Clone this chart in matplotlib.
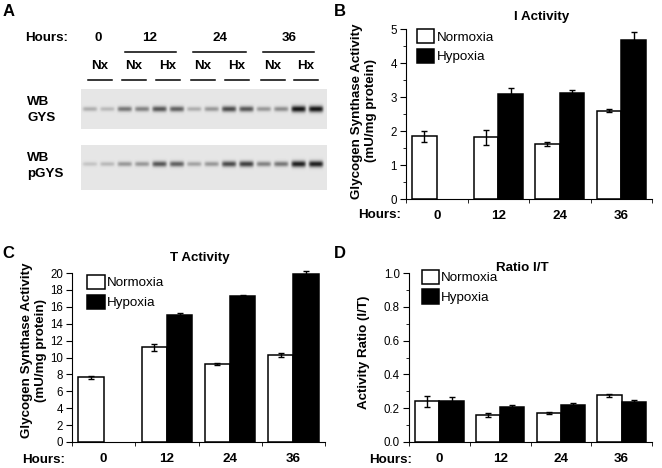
import numpy as np
import matplotlib; matplotlib.use("Agg")
import matplotlib.pyplot as plt
from matplotlib.patches import Patch
from matplotlib.ticker import FormatStrFormatter

plt.rcParams["font.family"] = ["Liberation Sans", "DejaVu Sans"]

W, H = 662, 468

# --- data ---
hours      = ["0", "12", "24", "36"]
lane_names = ["Nx", "Nx", "Hx", "Nx", "Hx", "Nx", "Hx"]
gys_bands  = [0.25, 0.20, 0.50, 0.45, 0.65, 0.60, 0.25, 0.35, 0.70, 0.65, 0.35, 0.40, 0.95, 0.95]
pgys_bands = [0.15, 0.20, 0.35, 0.35, 0.65, 0.60, 0.30, 0.35, 0.70, 0.75, 0.45, 0.50, 0.90, 0.90]

i_norm     = [1.84, 1.82, 1.62, 2.60]
i_norm_err = [0.15, 0.22, 0.05, 0.05]
i_hyp      = [np.nan, 3.09, 3.12, 4.68]
i_hyp_err  = [np.nan, 0.17, 0.10, 0.24]

t_norm     = [7.64, 11.2, 9.23, 10.3]
t_norm_err = [0.15, 0.45, 0.10, 0.25]
t_hyp      = [np.nan, 15.0, 17.3, 19.9]
t_hyp_err  = [np.nan, 0.30, 0.15, 0.35]

r_norm     = [0.240, 0.162, 0.172, 0.277]
r_norm_err = [0.030, 0.012, 0.008, 0.008]
r_hyp      = [0.244, 0.208, 0.218, 0.238]
r_hyp_err  = [0.025, 0.012, 0.010, 0.010]

FS = 9.6

fig = plt.figure(figsize=(W/100, H/100), dpi=100)

def box(l, t, r, b):
    return [l/W, 1-b/H, (r-l)/W, (b-t)/H]

# overlay in pixel coords for panel A and annotations
ov = fig.add_axes([0, 0, 1, 1])
ov.set_xlim(0, W); ov.set_ylim(H, 0)
ov.set_axis_off(); ov.patch.set_visible(False)

def blot(bands, l, t, r, b, yc):
    w, h = r-l, b-t
    xs = np.arange(w)[None, :] + l + 0.5
    ys = np.arange(h)[:, None] + t + 0.5
    img = np.full((h, w), 0.90)
    for xc, inten in zip(np.linspace(90, 316, len(bands)), bands):
        prof = np.exp(-((xs-xc)/7.2)**6) * np.exp(-((ys-yc)/(2.0+1.3*inten))**2)
        img -= 0.85*inten*prof
    ov.imshow(img, cmap="gray", vmin=0, vmax=1, extent=(l, r, b, t),
              aspect="auto", interpolation="bilinear")

blot(gys_bands, 81, 89, 327, 129, 109)
blot(pgys_bands, 81, 145, 327, 190, 164)
ov.set_xlim(0, W); ov.set_ylim(H, 0)

bold = dict(fontweight="bold", ha="center", va="center")
ov.text(9, 11, "A", fontsize=12, **bold)
ov.text(340, 11, "B", fontsize=12, **bold)
ov.text(8, 253, "C", fontsize=12, **bold)
ov.text(340, 253, "D", fontsize=12, **bold)

ov.text(47, 38, "Hours:", fontsize=FS, **bold)
for xh, s in zip([98, 150, 220, 289], hours):
    ov.text(xh, 38, s, fontsize=FS, **bold)
for x0, x1 in [(125, 176), (193, 246), (263, 314)]:
    ov.plot([x0, x1], [52, 52], color="black", lw=1.1)
for xl, s in zip([100, 134, 168, 203, 237, 273, 306], lane_names):
    ov.text(xl, 66, s, fontsize=FS, **bold)
    ov.plot([xl-12, xl+12], [80, 80], color="black", lw=1.1)
ov.text(27, 110, "WB\nGYS", fontsize=FS, fontweight="bold", ha="left", va="center", linespacing=1.4)
ov.text(27, 166, "WB\npGYS", fontsize=FS, fontweight="bold", ha="left", va="center", linespacing=1.4)

def bars(rect, norm, nerr, hyp, herr, top, major, minor, fmt, anchor):
    ax = fig.add_axes(rect)
    x = np.arange(len(hours))
    ax.bar(x-0.2, norm, 0.4, color="white", edgecolor="black", lw=1.1)
    ax.bar(x+0.2, hyp, 0.4, color="black", edgecolor="black", lw=1.1)
    for xs, v, e in [(x-0.2, norm, nerr), (x+0.2, hyp, herr)]:
        eb = ax.errorbar(xs, v, e, fmt="none", ecolor="black", elinewidth=1, capsize=2.5)
        for art in eb.lines[1] + eb.lines[2]:
            art.set_clip_on(False)
    ax.set_xlim(-0.5, 3.5); ax.set_ylim(0, top)
    ax.set_yticks(major)
    if minor is not None:
        ax.set_yticks(minor, minor=True)
    ax.yaxis.set_major_formatter(FormatStrFormatter(fmt))
    ax.set_xticks(x, hours, fontweight="bold", fontsize=FS)
    ax.set_xticks(np.arange(-0.5, 4), minor=True)
    ax.tick_params(axis="x", which="major", length=0, pad=8)
    ax.tick_params(axis="x", which="minor", length=3)
    ax.tick_params(axis="y", which="major", length=4, labelsize=8.3, pad=2.5)
    ax.tick_params(axis="y", which="minor", length=2.5)
    ax.spines[["top", "right"]].set_visible(False)
    ax.legend(handles=[Patch(fc="white", ec="black", lw=1.1, label="Normoxia"),
                       Patch(fc="black", ec="black", lw=1.1, label="Hypoxia")],
              loc="upper left", bbox_to_anchor=anchor, frameon=False, fontsize=FS,
              handlelength=1.3, handleheight=1.25, handletextpad=0.15,
              labelspacing=0.4, borderpad=0, borderaxespad=0)
    return ax

bars(box(406, 29, 652, 199), i_norm, i_norm_err, i_hyp, i_hyp_err, 5,
     np.arange(0, 6), np.arange(0, 5.1, 0.5), "%d", (0.045, 1.0))
bars(box(72, 273, 325, 442), t_norm, t_norm_err, t_hyp, t_hyp_err, 20,
     np.arange(0, 21, 2), None, "%d", (0.06, 0.99))
bars(box(409, 273, 652, 442), r_norm, r_norm_err, r_hyp, r_hyp_err, 1.0,
     np.arange(0, 1.01, 0.2), np.arange(0, 1.01, 0.1), "%.1f", (0.053, 1.02))

ov.text(542, 17, "I Activity", fontsize=FS, **bold)
ov.text(200, 258, "T Activity", fontsize=FS, **bold)
ov.text(522, 268, "Ratio I/T", fontsize=FS, **bold)
ov.text(364, 111, "Glycogen Synthase Activity\n(mU/mg protein)", fontsize=FS,
        rotation=90, multialignment="center", linespacing=1.3, **bold)
ov.text(34, 350, "Glycogen Synthase Activity\n(mU/mg protein)", fontsize=FS,
        rotation=90, multialignment="center", linespacing=1.3, **bold)
ov.text(364, 352, "Activity Ratio (I/T)", fontsize=FS, rotation=90, **bold)
ov.text(380, 215, "Hours:", fontsize=FS, **bold)
ov.text(44, 460, "Hours:", fontsize=FS, **bold)
ov.text(391, 460, "Hours:", fontsize=FS, **bold)

fig.savefig("out.png", dpi=100)
